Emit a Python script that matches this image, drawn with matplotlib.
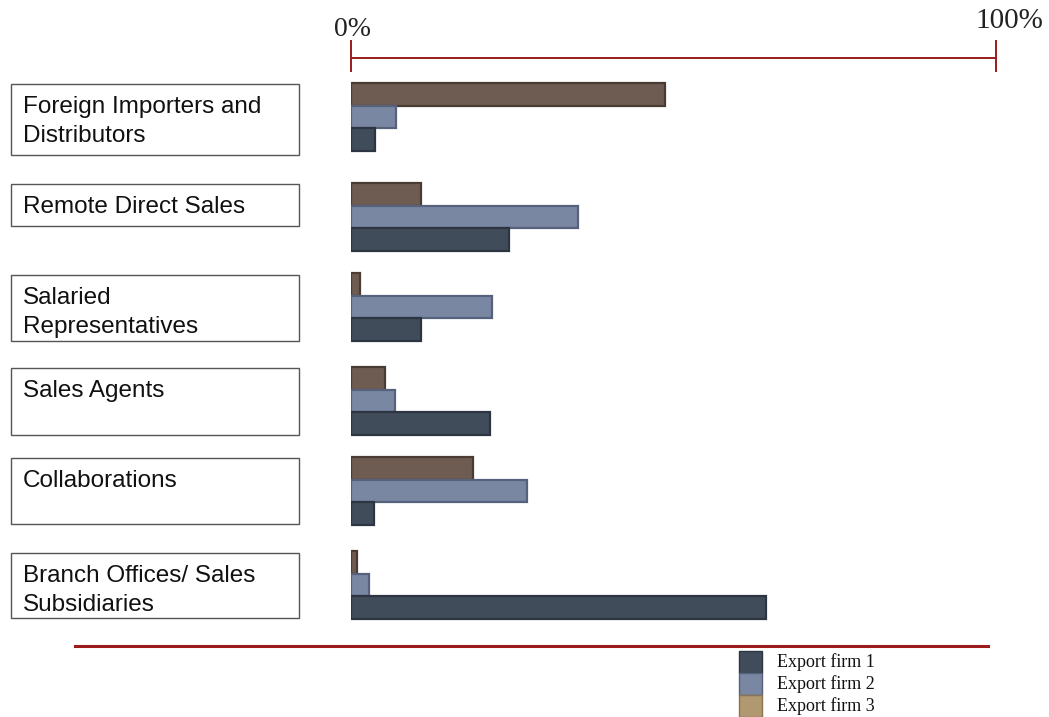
import matplotlib.pyplot as plt
from matplotlib.patches import Rectangle

# share of each sales channel, percent
channels = [
    "Foreign Importers and\nDistributors",
    "Remote Direct Sales",
    "Salaried\nRepresentatives",
    "Sales Agents",
    "Collaborations",
    "Branch Offices/ Sales\nSubsidiaries",
]
firm1 = [3.7, 24.5, 10.9, 21.6, 3.6, 64.4]
firm2 = [7.0, 35.2, 21.9, 6.8, 27.3, 2.8]
firm3 = [48.7, 10.9, 1.4, 5.3, 18.9, 1.0]
series_names = ["Export firm 1", "Export firm 2", "Export firm 3"]

# layout (pixels, top-down)
W, H = 1049, 717
group_tops = [83, 183, 273, 367, 457, 551]
box_spans = [(84, 155), (184, 226), (275, 341), (368, 435), (458, 524), (553, 618)]
bar_h = 22.5
x0_px, x1_px = 351, 996

c1, c2, c3 = "#414c5a", "#7a87a3", "#6e5b51"
e1, e2, e3 = "#2c3541", "#56627c", "#4a3c35"
legend_colors = [c1, c2, "#b09870"]
legend_edges = [e1, e2, "#8a7550"]
red = "#9a1c1c"

fig = plt.figure(figsize=(W / 100, H / 100), dpi=100)

# background axes in pixel units for boxes, rules and legend
bg = fig.add_axes([0, 0, 1, 1])
bg.set_xlim(0, W)
bg.set_ylim(H, 0)
bg.axis("off")

# bar axes: x in percent, y in pixels
ax = fig.add_axes([x0_px / W, 0, (x1_px - x0_px) / W, 1])
ax.set_xlim(0, 100)
ax.set_ylim(H, 0)
ax.axis("off")

for i, top in enumerate(group_tops):
    for j, (vals, col, ec) in enumerate([(firm3, c3, e3), (firm2, c2, e2), (firm1, c1, e1)]):
        ax.barh(top + j * bar_h + bar_h / 2, vals[i], height=bar_h, left=0,
                color=col, edgecolor=ec, linewidth=1.6)

# top percentage scale
ax.plot([0, 100], [58, 58], color=red, lw=1.4, clip_on=False)
ax.vlines([0, 100], 40, 72, color=red, lw=1.4, clip_on=False)
ax.text(0.3, 42, "0%", ha="center", va="bottom", fontsize=20,
        family="Liberation Serif", color="#222222", clip_on=False)
ax.text(102.0, 34, "100%", ha="center", va="bottom", fontsize=21,
        family="Liberation Serif", color="#222222", clip_on=False)

# channel label boxes
for label, (top, bottom) in zip(channels, box_spans):
    bg.add_patch(Rectangle((11, top), 288, bottom - top, facecolor="white",
                           edgecolor="#555555", lw=1.0))
    bg.text(23, top + 12, label, ha="left", va="top", fontsize=17.5,
            family="Liberation Sans", color="#111111", linespacing=1.42)

# bottom rule
bg.plot([75, 988], [646, 646], color=red, lw=2.2)

# legend
for k, name in enumerate(series_names):
    y = 651 + k * 22
    bg.add_patch(Rectangle((739, y), 23, 22, facecolor=legend_colors[k],
                           edgecolor=legend_edges[k], lw=1.0))
    bg.text(777, y + 11, name, ha="left", va="center", fontsize=13,
            family="Liberation Serif", color="#111111")

fig.savefig("out.png", dpi=100)
